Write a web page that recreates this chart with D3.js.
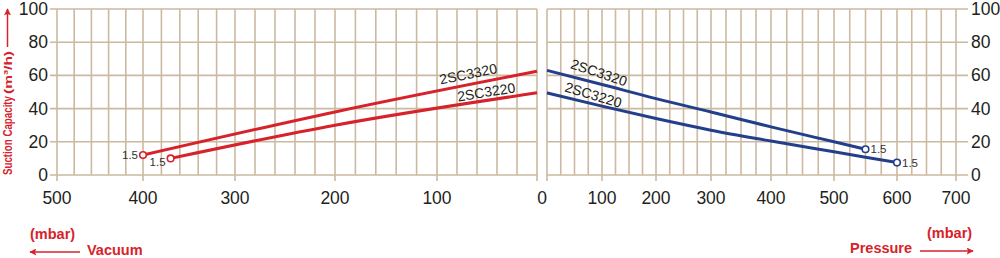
<!DOCTYPE html>
<html>
<head>
<meta charset="utf-8">
<script src="https://cdn.jsdelivr.net/npm/d3@7"></script>
<style>
  body { margin: 0; background: #fff; }
  svg { display: block; font-family: "Liberation Sans", Arial, sans-serif; }
</style>
</head>
<body>
<div id="chart"></div>
<script>
// tick labels
const vacuumTicks = [500, 400, 300, 200, 100, 0];
const pressureTicks = [0, 100, 200, 300, 400, 500, 600, 700];
const capacityTicks = [0, 20, 40, 60, 80, 100];

// vacuum side (mbar, m3/h)
const vac3320 = [[400, 12], [200, 38], [0, 62.5]];
const vac3220 = [[370, 10], [200, 30], [0, 49.5]];
// pressure side (mbar, m3/h)
const prs3320 = [[0, 63], [100, 54.5], [200, 46], [300, 38], [400, 29], [500, 20], [550, 15.5]];
const prs3220 = [[0, 49.5], [100, 41.5], [200, 34], [300, 27], [400, 20.5], [500, 14], [600, 7.5]];

const red = '#d7222b';
const blue = '#233f8c';
const gridColor = '#ccb9a1';
const textColor = '#231f20';

const width = 1000, height = 258;

const svg = d3.select('#chart')
    .append('svg')
    .attr('width', width)
    .attr('height', height);

// the printed chart has slightly uneven spacing, so use piecewise scales
const xVac = d3.scaleLinear()
    .domain(vacuumTicks)
    .range([57, 143, 235, 335, 437, 537]);

const xPrs = d3.scaleLinear()
    .domain(pressureTicks)
    .range([547, 602, 656, 711, 771, 834, 897, 956]);

const y = d3.scaleLinear()
    .domain([0, 100])
    .range([175, 9]);

const grid = svg.append('g')
    .attr('stroke', gridColor)
    .attr('stroke-width', 1.6);

// vertical grid lines
grid.selectAll('.vgl')
    .data(d3.range(0, 501, 20))
    .enter().append('line')
    .attr('x1', d => xVac(d)).attr('x2', d => xVac(d))
    .attr('y1', y(100))
    .attr('y2', d => d % 100 === 0 ? y(0) + 6 : y(0));

grid.selectAll('.vgr')
    .data(d3.range(0, 701, 25))
    .enter().append('line')
    .attr('x1', d => xPrs(d)).attr('x2', d => xPrs(d))
    .attr('y1', y(100))
    .attr('y2', d => d % 100 === 0 ? y(0) + 6 : y(0));

// horizontal grid lines
grid.selectAll('.hl')
    .data(capacityTicks)
    .enter().append('line')
    .attr('x1', 50).attr('x2', xVac(0))
    .attr('y1', d => y(d)).attr('y2', d => y(d));

grid.selectAll('.hr')
    .data(capacityTicks)
    .enter().append('line')
    .attr('x1', xPrs(0)).attr('x2', 968)
    .attr('y1', d => y(d)).attr('y2', d => y(d));

// tick labels
const labels = svg.append('g')
    .attr('fill', textColor)
    .attr('font-size', 17.5);

labels.selectAll('.yl')
    .data(capacityTicks)
    .enter().append('text')
    .attr('x', 48)
    .attr('y', d => y(d) + 6)
    .attr('text-anchor', 'end')
    .text(d => d);

labels.selectAll('.yr')
    .data(capacityTicks)
    .enter().append('text')
    .attr('x', 971)
    .attr('y', d => y(d) + 6)
    .text(d => d);

labels.selectAll('.xl')
    .data(vacuumTicks.filter(d => d > 0))
    .enter().append('text')
    .attr('x', d => xVac(d))
    .attr('y', 204)
    .attr('text-anchor', 'middle')
    .text(d => d);

labels.append('text')
    .attr('x', (xVac(0) + xPrs(0)) / 2)
    .attr('y', 204)
    .attr('text-anchor', 'middle')
    .text(0);

labels.selectAll('.xr')
    .data(pressureTicks.filter(d => d > 0))
    .enter().append('text')
    .attr('x', d => xPrs(d))
    .attr('y', 204)
    .attr('text-anchor', 'middle')
    .text(d => d);

// curves
const lineVac = d3.line()
    .x(d => xVac(d[0]))
    .y(d => y(d[1]))
    .curve(d3.curveMonotoneX);

const linePrs = d3.line()
    .x(d => xPrs(d[0]))
    .y(d => y(d[1]))
    .curve(d3.curveMonotoneX);

const curves = [
    { data: vac3320, line: lineVac, sx: xVac, color: red, name: '2SC3320', dist: 68, lift: 10, tilt: 0, side: 'left', ldy: 4 },
    { data: vac3220, line: lineVac, sx: xVac, color: red, name: '2SC3220', dist: 50, lift: 8, tilt: 0, side: 'left', ldy: 8 },
    { data: prs3320, line: linePrs, sx: xPrs, color: blue, name: '2SC3320', dist: 50, lift: 10, tilt: 4, side: 'right', ldy: 4 },
    { data: prs3220, line: linePrs, sx: xPrs, color: blue, name: '2SC3220', dist: 45, lift: 8, tilt: 3, side: 'right', ldy: 4 }
];

curves.forEach(c => {
    const pts = c.data.slice().sort((a, b) => c.sx(a[0]) - c.sx(b[0]));
    svg.append('path')
        .attr('d', c.line(pts))
        .attr('fill', 'none')
        .attr('stroke', c.color)
        .attr('stroke-width', 3);

    // open end marker at the 1.5 point
    const end = c.side === 'left' ? pts[0] : pts[pts.length - 1];
    const ex = c.sx(end[0]), ey = y(end[1]);
    svg.append('circle')
        .attr('cx', ex).attr('cy', ey)
        .attr('r', 3.3)
        .attr('fill', '#fff')
        .attr('stroke', c.color)
        .attr('stroke-width', 1.6);
    svg.append('text')
        .attr('x', c.side === 'left' ? ex - 5 : ex + 5)
        .attr('y', ey + c.ldy)
        .attr('text-anchor', c.side === 'left' ? 'end' : 'start')
        .attr('font-size', 11.5)
        .attr('fill', '#333')
        .text('1.5');

    // series name along the line
    const inner = c.side === 'left' ? pts[pts.length - 1] : pts[0];
    const nxt = c.side === 'left' ? pts[pts.length - 2] : pts[1];
    const x0 = c.sx(inner[0]), y0 = y(inner[1]);
    const x1 = c.sx(nxt[0]), y1 = y(nxt[1]);
    const ang = Math.atan2(y1 - y0, x1 - x0);
    const deg = (c.side === 'left' ? ang + Math.PI : ang) * 180 / Math.PI + c.tilt;
    const px = x0 + Math.cos(ang) * c.dist;
    const py = y0 + Math.sin(ang) * c.dist;
    svg.append('text')
        .attr('transform', `translate(${px},${py}) rotate(${deg})`)
        .attr('y', -c.lift + 4)
        .attr('text-anchor', 'middle')
        .attr('font-size', 14)
        .attr('fill', textColor)
        .text(c.name);
});

// arrow head
const defs = svg.append('defs');
defs.append('marker')
    .attr('id', 'arrow')
    .attr('viewBox', '0 0 10 10')
    .attr('refX', 9).attr('refY', 5)
    .attr('markerWidth', 14).attr('markerHeight', 7)
    .attr('markerUnits', 'userSpaceOnUse')
    .attr('orient', 'auto')
    .append('path')
    .attr('d', 'M0,0 L10,5 L0,10 L2,5 Z')
    .attr('fill', red);

// axis title
const title = svg.append('text')
    .attr('transform', 'translate(12,175) rotate(-90)')
    .attr('fill', red)
    .attr('font-weight', 'bold');
title.append('tspan')
    .attr('font-size', 13)
    .attr('textLength', 79)
    .attr('lengthAdjust', 'spacingAndGlyphs')
    .text('Suction Capacity');
title.append('tspan')
    .attr('font-size', 11)
    .attr('dx', 2)
    .attr('textLength', 43)
    .attr('lengthAdjust', 'spacingAndGlyphs')
    .text('(m³/h)');

svg.append('line')
    .attr('x1', 7.5).attr('y1', 47)
    .attr('x2', 7.5).attr('y2', 9)
    .attr('stroke', red).attr('stroke-width', 1.5)
    .attr('marker-end', 'url(#arrow)');

// unit and direction notes
const notes = svg.append('g')
    .attr('fill', red)
    .attr('font-weight', 'bold')
    .attr('font-size', 14.5);

notes.append('text').attr('x', 30).attr('y', 239).text('(mbar)');
notes.append('text').attr('x', 87).attr('y', 255).text('Vacuum');
notes.append('text').attr('x', 927).attr('y', 238).text('(mbar)');
notes.append('text').attr('x', 850).attr('y', 253).text('Pressure');

svg.append('line')
    .attr('x1', 80).attr('y1', 252)
    .attr('x2', 30).attr('y2', 252)
    .attr('stroke', red).attr('stroke-width', 1.5)
    .attr('marker-end', 'url(#arrow)');

svg.append('line')
    .attr('x1', 920).attr('y1', 251)
    .attr('x2', 973).attr('y2', 251)
    .attr('stroke', red).attr('stroke-width', 1.5)
    .attr('marker-end', 'url(#arrow)');
</script>
</body>
</html>
